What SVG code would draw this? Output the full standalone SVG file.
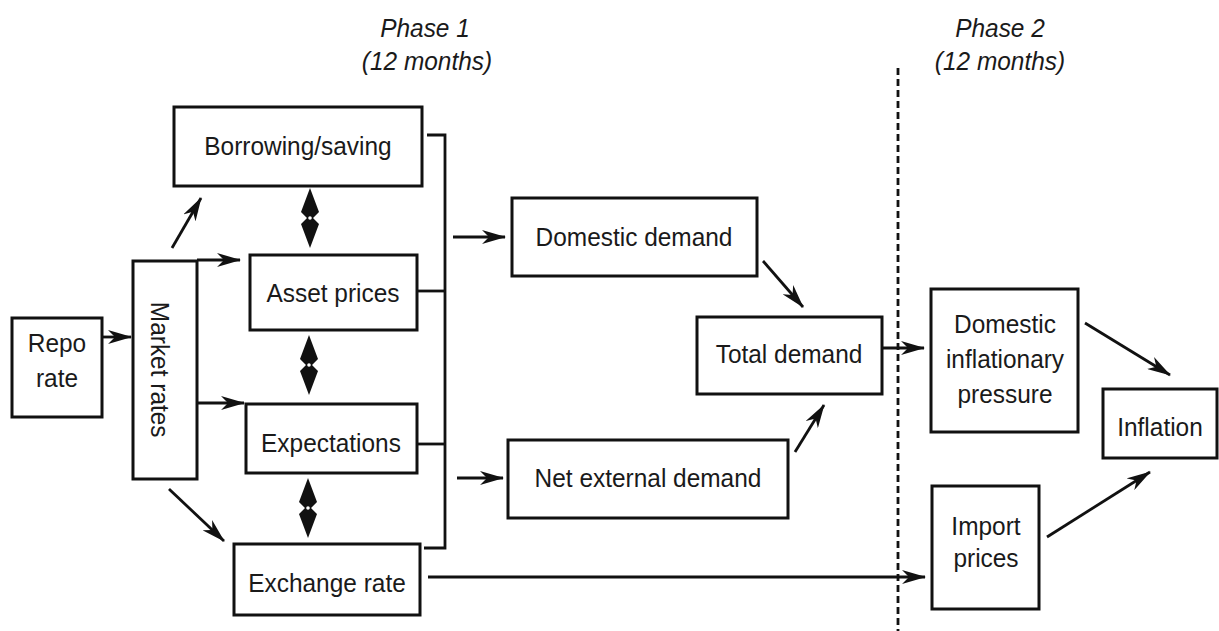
<svg xmlns="http://www.w3.org/2000/svg" width="1219" height="631" viewBox="0 0 1219 631">
<style>
.box{fill:#fff;stroke:#111;stroke-width:3}
.t{font-family:"Liberation Sans",Arial,sans-serif;font-size:26px;fill:#1a1a1a;text-anchor:middle;transform-box:fill-box;transform-origin:center;transform:scaleX(0.94)}
.ph{font-style:italic}
.rot{transform:rotate(90deg) scaleX(0.94)}
.ln{fill:none;stroke:#111;stroke-width:2.8}
.ar{fill:none;stroke:#111;stroke-width:2.8;marker-end:url(#ah)}
.dash{fill:none;stroke:#111;stroke-width:2.8;stroke-dasharray:7 4}
</style>
<defs>
<marker id="ah" viewBox="0 0 24 14" refX="23" refY="7" markerWidth="24" markerHeight="14" markerUnits="userSpaceOnUse" orient="auto">
<path d="M0,0 L24,7 L0,14 L7,7 Z" fill="#111"/>
</marker>
<g id="dbl">
<path d="M0,-30 L9,-6 L3,0 L9,6 L0,30 L-9,6 L-3,0 L-9,-6 Z" fill="#111"/>
<circle cx="0" cy="0" r="1.8" fill="#fff"/>
</g>
</defs>

<g id="phase1"><text class="t ph" x="425" y="37">Phase 1</text><text class="t ph" x="427" y="70">(12 months)</text></g>
<g id="phase2"><text class="t ph" x="1000" y="37">Phase 2</text><text class="t ph" x="1000" y="70">(12 months)</text></g>

<g id="connectors">
<line class="dash" x1="898" y1="68" x2="898" y2="631"/>
<line class="ar" x1="101" y1="337" x2="131" y2="337"/>
<line class="ar" x1="172" y1="248" x2="201" y2="198"/>
<line class="ar" x1="197" y1="260" x2="240" y2="260"/>
<line class="ar" x1="197" y1="403" x2="244" y2="403"/>
<line class="ar" x1="169" y1="489" x2="224" y2="541"/>
<use href="#dbl" x="310" y="218"/>
<use href="#dbl" x="309" y="365"/>
<use href="#dbl" x="308" y="508"/>
<path class="ln" d="M427,135 H445 V548 H424"/>
<line class="ln" x1="417" y1="291" x2="445" y2="291"/>
<line class="ln" x1="418" y1="444" x2="445" y2="444"/>
<line class="ar" x1="453" y1="237" x2="505" y2="237"/>
<line class="ar" x1="457" y1="478" x2="503" y2="478"/>
<line class="ar" x1="763" y1="261" x2="803" y2="307"/>
<line class="ar" x1="795" y1="452" x2="824" y2="405"/>
<line class="ar" x1="882" y1="348" x2="924" y2="348"/>
<line class="ar" x1="428" y1="577" x2="925" y2="577"/>
<line class="ar" x1="1085" y1="323" x2="1170" y2="375"/>
<line class="ar" x1="1047" y1="537" x2="1150" y2="472"/>
</g>

<g id="repo"><rect class="box" x="12" y="318" width="90" height="99"/><text class="t" x="57" y="352">Repo</text><text class="t" x="57" y="387">rate</text></g>
<g id="market"><rect class="box" x="133" y="261" width="64" height="218"/><text class="t rot" x="160" y="379">Market rates</text></g>
<g id="borrowing"><rect class="box" x="174" y="107" width="248" height="79"/><text class="t" x="298" y="155">Borrowing/saving</text></g>
<g id="asset"><rect class="box" x="250" y="255" width="167" height="75"/><text class="t" x="333" y="302">Asset prices</text></g>
<g id="expectations"><rect class="box" x="246" y="404" width="171" height="69"/><text class="t" x="331" y="452">Expectations</text></g>
<g id="exchange"><rect class="box" x="234" y="544" width="186" height="71"/><text class="t" x="327" y="592">Exchange rate</text></g>
<g id="domestic"><rect class="box" x="512" y="198" width="245" height="78"/><text class="t" x="634" y="246">Domestic demand</text></g>
<g id="netext"><rect class="box" x="508" y="440" width="280" height="78"/><text class="t" x="648" y="487">Net external demand</text></g>
<g id="total"><rect class="box" x="697" y="317" width="185" height="77"/><text class="t" x="789" y="363">Total demand</text></g>
<g id="dip"><rect class="box" x="931" y="289" width="147" height="143"/><text class="t" x="1005" y="333">Domestic</text><text class="t" x="1005" y="368">inflationary</text><text class="t" x="1005" y="403">pressure</text></g>
<g id="inflation"><rect class="box" x="1103" y="389" width="114" height="69"/><text class="t" x="1160" y="436">Inflation</text></g>
<g id="import"><rect class="box" x="932" y="486" width="107" height="123"/><text class="t" x="986" y="535">Import</text><text class="t" x="986" y="567">prices</text></g>
</svg>
